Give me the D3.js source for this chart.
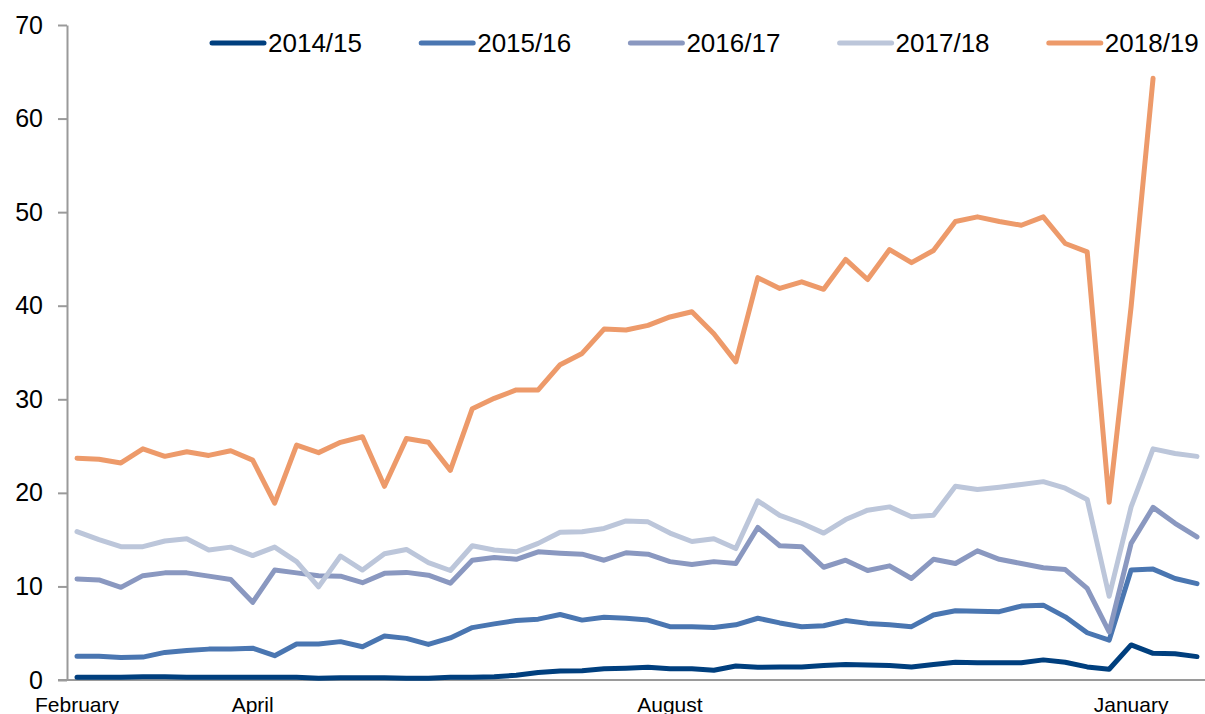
<!DOCTYPE html>
<html>
<head>
<meta charset="utf-8">
<script src="https://cdn.jsdelivr.net/npm/d3@7"></script>
<style>
  body { margin: 0; background: #fff; }
  svg text { font-family: "Liberation Sans", Arial, sans-serif; fill: #000; }
</style>
</head>
<body>
<div id="chart"></div>
<script>
// weekly values, February (week 0) to January
const seasons = ["2014/15", "2015/16", "2016/17", "2017/18", "2018/19"];
const colors = ["#003f7e", "#4a76b1", "#8a98c0", "#bcc6da", "#ed9a6a"];

const s1415 = [0.3, 0.3, 0.3, 0.35, 0.35, 0.3, 0.3, 0.3, 0.3, 0.3, 0.3, 0.2, 0.25, 0.25, 0.25, 0.2, 0.2,
  0.3, 0.3, 0.35, 0.5, 0.8, 0.95, 1.0, 1.2, 1.25, 1.35, 1.2, 1.2, 1.05, 1.5, 1.35, 1.4, 1.4, 1.55,
  1.65, 1.6, 1.55, 1.4, 1.65, 1.9, 1.85, 1.85, 1.85, 2.15, 1.9, 1.4, 1.15, 3.75, 2.85, 2.8, 2.5];
const s1516 = [2.55, 2.55, 2.4, 2.45, 2.95, 3.15, 3.3, 3.3, 3.4, 2.6, 3.85, 3.85, 4.1, 3.55, 4.7, 4.45, 3.8,
  4.5, 5.6, 6.0, 6.35, 6.5, 7.0, 6.4, 6.7, 6.6, 6.4, 5.7, 5.7, 5.6, 5.9, 6.6, 6.1, 5.7, 5.8,
  6.35, 6.05, 5.9, 5.7, 6.95, 7.4, 7.35, 7.3, 7.9, 8.0, 6.75, 5.05, 4.25, 11.75, 11.85, 10.85, 10.3];
const s1617 = [10.8, 10.7, 9.9, 11.15, 11.45, 11.45, 11.1, 10.75, 8.3, 11.75, 11.45, 11.15, 11.1, 10.4, 11.4, 11.5, 11.2,
  10.35, 12.8, 13.1, 12.9, 13.7, 13.55, 13.45, 12.8, 13.6, 13.45, 12.65, 12.35, 12.65, 12.45, 16.3, 14.35, 14.25, 12.05,
  12.8, 11.7, 12.2, 10.85, 12.9, 12.45, 13.8, 12.9, 12.45, 12.0, 11.8, 9.8, 5.15, 14.6, 18.45, 16.75, 15.3];
const s1718 = [15.85, 15.0, 14.25, 14.25, 14.85, 15.1, 13.9, 14.2, 13.3, 14.2, 12.65, 9.95, 13.25, 11.75, 13.5, 13.95, 12.55,
  11.7, 14.35, 13.9, 13.7, 14.6, 15.8, 15.85, 16.2, 17.0, 16.9, 15.7, 14.8, 15.1, 14.05, 19.15, 17.6, 16.75, 15.7,
  17.15, 18.15, 18.5, 17.45, 17.6, 20.7, 20.35, 20.6, 20.9, 21.2, 20.5, 19.3, 8.95, 18.5, 24.7, 24.2, 23.9];
const s1819 = [23.7, 23.6, 23.2, 24.7, 23.9, 24.4, 24.0, 24.5, 23.5, 18.9, 25.1, 24.3, 25.4, 26.0, 20.7, 25.8, 25.4,
  22.4, 29.0, 30.1, 31.0, 31.0, 33.7, 34.9, 37.5, 37.4, 37.9, 38.8, 39.35, 37.0, 34.0, 43.0, 41.85, 42.55, 41.75,
  44.95, 42.8, 46.0, 44.6, 45.9, 49.0, 49.5, 49.0, 48.6, 49.5, 46.65, 45.75, 19.0, 39.9, 64.3, null, null];

const monthLabels = ["February", "April", "August", "January"];
const monthWeeks = [0, 8, 27, 48];
const yTicks = [0, 10, 20, 30, 40, 50, 60, 70];

const series = [s1415, s1516, s1617, s1718, s1819];

const W = 1205, H = 714;
const svg = d3.select("#chart").append("svg")
  .attr("width", W)
  .attr("height", H);

const x = d3.scaleLinear().domain([0, 51]).range([77, 1197]);
const y = d3.scaleLinear().domain([0, 70]).range([680, 25]);

// y axis
const yAxis = svg.append("g")
  .attr("transform", "translate(67,0)")
  .call(d3.axisLeft(y).tickValues(yTicks).tickSize(9).tickPadding(15).tickSizeOuter(0));
yAxis.select(".domain").attr("stroke", "#9a9a9a").attr("stroke-width", 2);
yAxis.selectAll(".tick line").attr("stroke", "#9a9a9a").attr("stroke-width", 2);
yAxis.selectAll(".tick text")
  .style("font-size", "25px")
  .style("font-family", "\"Liberation Sans\", Arial, sans-serif")
  .attr("fill", "#000");

// x axis line
svg.append("line")
  .attr("x1", 58).attr("x2", W)
  .attr("y1", y(0)).attr("y2", y(0))
  .attr("stroke", "#9a9a9a")
  .attr("stroke-width", 2);

svg.selectAll(".month")
  .data(monthLabels)
  .join("text")
  .attr("class", "month")
  .attr("x", (d, i) => x(monthWeeks[i]))
  .attr("y", 712)
  .attr("text-anchor", "middle")
  .style("font-size", "21px")
  .text(d => d);

// lines
const line = d3.line()
  .defined(d => d != null)
  .x((d, i) => x(i))
  .y(d => y(d));

svg.selectAll(".series")
  .data(series)
  .join("path")
  .attr("class", "series")
  .attr("d", line)
  .attr("fill", "none")
  .attr("stroke", (d, i) => colors[i])
  .attr("stroke-width", 5)
  .attr("stroke-linejoin", "round")
  .attr("stroke-linecap", "round");

// legend
const legend = svg.selectAll(".legend")
  .data(seasons)
  .join("g")
  .attr("class", "legend")
  .attr("transform", (d, i) => `translate(${212 + i * 209.2},43)`);

legend.append("line")
  .attr("x1", 0).attr("x2", 52)
  .attr("y1", 0).attr("y2", 0)
  .attr("stroke", (d, i) => colors[i])
  .attr("stroke-width", 5)
  .attr("stroke-linecap", "round");

legend.append("text")
  .attr("x", 56)
  .attr("y", 9)
  .style("font-size", "26px")
  .text(d => d);
</script>
</body>
</html>
